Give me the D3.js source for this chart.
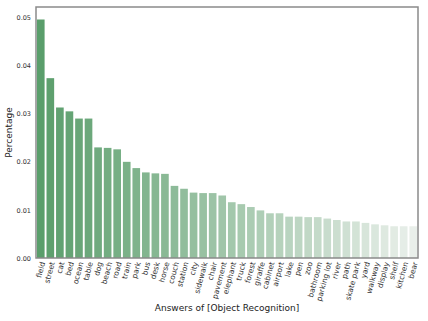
<!DOCTYPE html>
<html>
<head>
<meta charset="utf-8">
<script src="https://cdn.jsdelivr.net/npm/d3@7"></script>
<style>
  body { margin: 0; background: #fff; }
  text { font-family: "DejaVu Sans", sans-serif; fill: #222; }
</style>
</head>
<body>
<script>
var answers = ["field", "street", "cat", "bed", "ocean", "table", "dog", "beach", "road", "train",
  "park", "bus", "desk", "horse", "couch", "station", "city", "sidewalk", "chair", "pavement",
  "elephant", "truck", "forest", "giraffe", "cabinet", "airport", "lake", "pen", "zoo", "bathroom",
  "parking lot", "river", "path", "skate park", "yard", "walkway", "display", "shelf", "kitchen", "bear"];
var percentages = [0.0496, 0.0374, 0.0313, 0.0305, 0.0290, 0.0290, 0.0230, 0.0229, 0.0226, 0.0200,
  0.0187, 0.0178, 0.0176, 0.0175, 0.0150, 0.0144, 0.0136, 0.0135, 0.0135, 0.0130,
  0.0116, 0.0112, 0.0106, 0.0099, 0.0093, 0.0093, 0.0086, 0.0086, 0.0085, 0.0085,
  0.0082, 0.0079, 0.0076, 0.0076, 0.0073, 0.0070, 0.0068, 0.0066, 0.0066, 0.0066];
var yTicks = [0, 0.01, 0.02, 0.03, 0.04, 0.05];

var width = 428, height = 321;
var margin = {top: 7, right: 10, bottom: 63, left: 36};
var w = width - margin.left - margin.right,
    h = height - margin.top - margin.bottom;

var svg = d3.select("body").append("svg")
    .attr("width", width)
    .attr("height", height);

var g = svg.append("g")
    .attr("transform", "translate(" + margin.left + "," + margin.top + ")");

var x = d3.scaleBand()
    .domain(answers)
    .range([0, w])
    .paddingInner(0.2)
    .paddingOuter(0.1);

var y = d3.scaleLinear()
    .domain([0, 0.0522])
    .range([h, 0]);

var color = d3.scaleLinear()
    .domain([0, answers.length - 1])
    .range(["#5a9e6b", "#e9efea"])
    .interpolate(d3.interpolateRgb);

// bars
g.selectAll("rect.bar")
    .data(answers)
  .enter().append("rect")
    .attr("class", "bar")
    .attr("x", function(d) { return x(d); })
    .attr("width", x.bandwidth())
    .attr("y", function(d, i) { return y(percentages[i]); })
    .attr("height", function(d, i) { return h - y(percentages[i]); })
    .style("fill", function(d, i) { return color(i); });

// y axis
var yAxis = d3.axisLeft(y)
    .tickValues(yTicks)
    .tickSize(0)
    .tickPadding(5)
    .tickFormat(d3.format(".2f"));
var ya = g.append("g").call(yAxis);
ya.select(".domain").remove();
ya.selectAll("text").style("font-size", "6.5px").style("fill", "#333");

// x axis
var xAxis = d3.axisBottom(x).tickSize(0).tickPadding(0);
var xa = g.append("g")
    .attr("transform", "translate(0," + h + ")")
    .call(xAxis);
xa.select(".domain").remove();
xa.selectAll("text")
    .style("font-size", "7.5px")
    .style("fill", "#333")
    .style("text-anchor", "end")
    .attr("dy", "0.35em")
    .attr("transform", "translate(2,4) rotate(-75)");

// frame
g.append("rect")
    .attr("x", 0).attr("y", 0)
    .attr("width", w).attr("height", h)
    .style("fill", "none")
    .style("stroke", "#8a8a8a")
    .style("stroke-width", 1.5);

// labels
svg.append("text")
    .attr("transform", "translate(12," + (margin.top + h / 2) + ") rotate(-90)")
    .attr("text-anchor", "middle")
    .style("font-size", "9px")
    .text("Percentage");

svg.append("text")
    .attr("x", margin.left + w / 2)
    .attr("y", 311)
    .attr("text-anchor", "middle")
    .style("font-size", "9px")
    .text("Answers of [Object Recognition]");
</script>
</body>
</html>
